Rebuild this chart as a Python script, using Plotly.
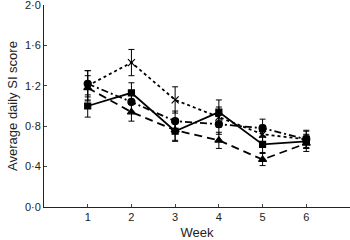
import plotly.graph_objects as go

weeks = [1, 2, 3, 4, 5, 6]
solid_sq = [1.00, 1.13, 0.75, 0.94, 0.62, 0.65]
solid_err = [0.11, 0.10, 0.10, 0.12, 0.08, 0.07]
dot_x = [1.20, 1.43, 1.06, 0.89, 0.72, 0.67]
dot_err = [0.15, 0.13, 0.13, 0.10, 0.09, 0.09]
dash_tri = [1.18, 0.94, 0.76, 0.66, 0.47, 0.63]
dash_err = [0.12, 0.09, 0.10, 0.08, 0.06, 0.08]
dd_circ = [1.22, 1.04, 0.85, 0.82, 0.78, 0.67]
dd_err = [0.13, 0.10, 0.10, 0.10, 0.09, 0.08]

y_ticks = [0, 0.4, 0.8, 1.2, 1.6, 2.0]
y_labels = ["0·0", "0·4", "0·8", "1·2", "1·6", "2·0"]

series = [
    (dot_x, dot_err, "dot", "x-thin-open", 7),
    (dash_tri, dash_err, "8px,5px", "triangle-up", 7),
    (dd_circ, dd_err, "7px,3px,2px,3px", "circle", 7),
    (solid_sq, solid_err, "solid", "square", 6),
]

fig = go.Figure()
for ys, es, dash, sym, sz in series:
    fig.add_trace(go.Scatter(
        x=weeks, y=ys, mode="lines+markers",
        line=dict(color="black", width=1.8, dash=dash),
        marker=dict(symbol=sym, size=sz, color="black",
                    line=dict(color="black", width=1.2)),
        error_y=dict(type="data", array=es, color="black", thickness=1, width=3),
        showlegend=False,
    ))

font = dict(family="Liberation Sans, Arial, sans-serif", size=11, color="#222")
fig.update_layout(
    width=350, height=240,
    margin=dict(l=44, r=0, t=5, b=33),
    paper_bgcolor="white", plot_bgcolor="white",
    font=font,
    xaxis=dict(range=[0, 7], tickvals=weeks, ticks="inside", ticklen=3,
               showline=True, linecolor="#222", linewidth=1, showgrid=False,
               zeroline=False, automargin=False,
               title=dict(text="Week", standoff=6)),
    yaxis=dict(range=[0, 2.0], tickvals=y_ticks, ticktext=y_labels,
               ticks="inside", ticklen=3, showline=True, linecolor="#222",
               linewidth=1, showgrid=False, zeroline=False, automargin=False,
               ticklabeloverflow="allow",
               title=dict(text="Average daily SI score", standoff=4)),
)
fig.write_html("out.html", config={"displayModeBar": False},
               post_script="document.body.style.margin='0px';")
